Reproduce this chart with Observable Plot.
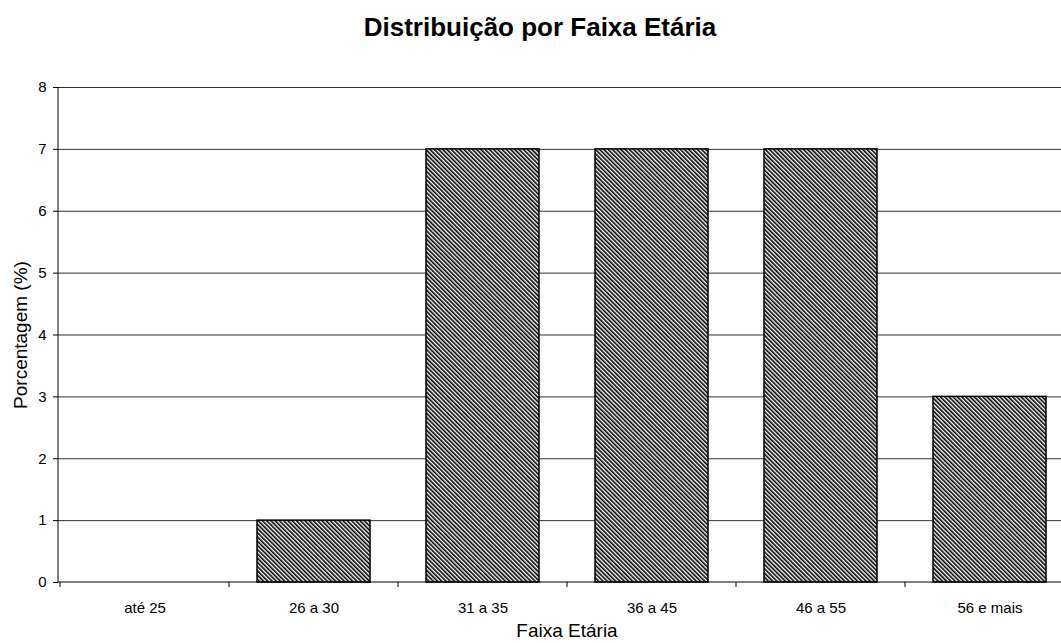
<!DOCTYPE html>
<html>
<head>
<meta charset="utf-8">
<script src="https://cdn.jsdelivr.net/npm/d3@7"></script>
<script src="https://cdn.jsdelivr.net/npm/@observablehq/plot@0.6"></script>
<style>
  body { margin: 0; background: #fff; font-family: "Liberation Sans", Arial, sans-serif; }
  #title { height: 60px; width: 1080px; text-align: center; font-weight: bold; font-size: 26px; line-height: 54px; color: #000; white-space: nowrap; overflow: visible; }
  #wrap { width: 1061px; overflow: hidden; }
</style>
</head>
<body>
<div id="wrap">
<div id="title">Distribuição por Faixa Etária</div>
<div id="chart"></div>
</div>
<script>
const categories = ["até 25", "26 a 30", "31 a 35", "36 a 45", "46 a 55", "56 e mais"];
const values = [0, 1, 7, 7, 7, 3];
const yTicks = [0, 1, 2, 3, 4, 5, 6, 7, 8];
const xLabel = "Faixa Etária";
const yLabel = "Porcentagem (%)";

const data = categories.map((c, i) => ({cat: c, val: values[i]}));

function axisLines(index, scales, values, dimensions) {
  const x = scales.x, y = scales.y;
  const bw = x.bandwidth ? x.bandwidth() : 0;
  const g = d3.create("svg:g").attr("stroke", "#000").attr("stroke-width", 1);
  const y0 = y(0);
  const left = dimensions.marginLeft;
  const right = dimensions.width - dimensions.marginRight;
  g.append("line").attr("x1", left).attr("x2", left).attr("y1", y(8)).attr("y2", y0);
  g.append("line").attr("x1", left).attr("x2", right).attr("y1", y0).attr("y2", y0);
  const bounds = categories.map(c => x(c)).concat([x(categories[categories.length - 1]) + bw]);
  for (const b of bounds) {
    g.append("line").attr("x1", b).attr("x2", b).attr("y1", y0).attr("y2", y0 + 5);
  }
  return g.node();
}

const chart = Plot.plot({
  width: 1061,
  height: 583,
  marginLeft: 58,
  marginRight: -14,
  marginTop: 27,
  marginBottom: 61,
  style: {fontFamily: "Liberation Sans, Arial, sans-serif", fontSize: "15px", color: "#000", background: "#fff", overflow: "hidden"},
  x: {domain: categories, padding: 0, label: null},
  y: {domain: [0, 8], label: null},
  marks: [
    Plot.ruleY(yTicks.slice(1), {stroke: "#000", strokeWidth: 1, strokeOpacity: 0.8}),
    Plot.barY(data, {x: "cat", y: "val", fill: "url(#hatch)", stroke: "#000", strokeWidth: 1.5, insetLeft: 28, insetRight: 28}),
    Plot.axisY({ticks: yTicks, tickSize: 5, tickPadding: 7, tickFormat: d3.format("d"), label: null, fontSize: 15}),
    Plot.axisX({tickSize: 0, tickPadding: 20, label: null, fontSize: 15}),
    axisLines,
    Plot.text([yLabel], {frameAnchor: "left", text: d => d, rotate: -90, dx: -38, textAnchor: "middle", lineAnchor: "middle", fontSize: 19}),
    Plot.text([xLabel], {frameAnchor: "bottom", text: d => d, dy: 48, textAnchor: "middle", lineAnchor: "middle", fontSize: 19})
  ]
});

const defs = d3.select(chart).insert("defs", ":first-child");
const pat = defs.append("pattern")
  .attr("id", "hatch")
  .attr("patternUnits", "userSpaceOnUse")
  .attr("width", 3).attr("height", 3)
  .attr("patternTransform", "rotate(-45)");
pat.append("rect").attr("width", 3).attr("height", 3).attr("fill", "#fff");
pat.append("rect").attr("width", 1.6).attr("height", 3).attr("fill", "#000");

document.getElementById("chart").appendChild(chart);
</script>
</body>
</html>
